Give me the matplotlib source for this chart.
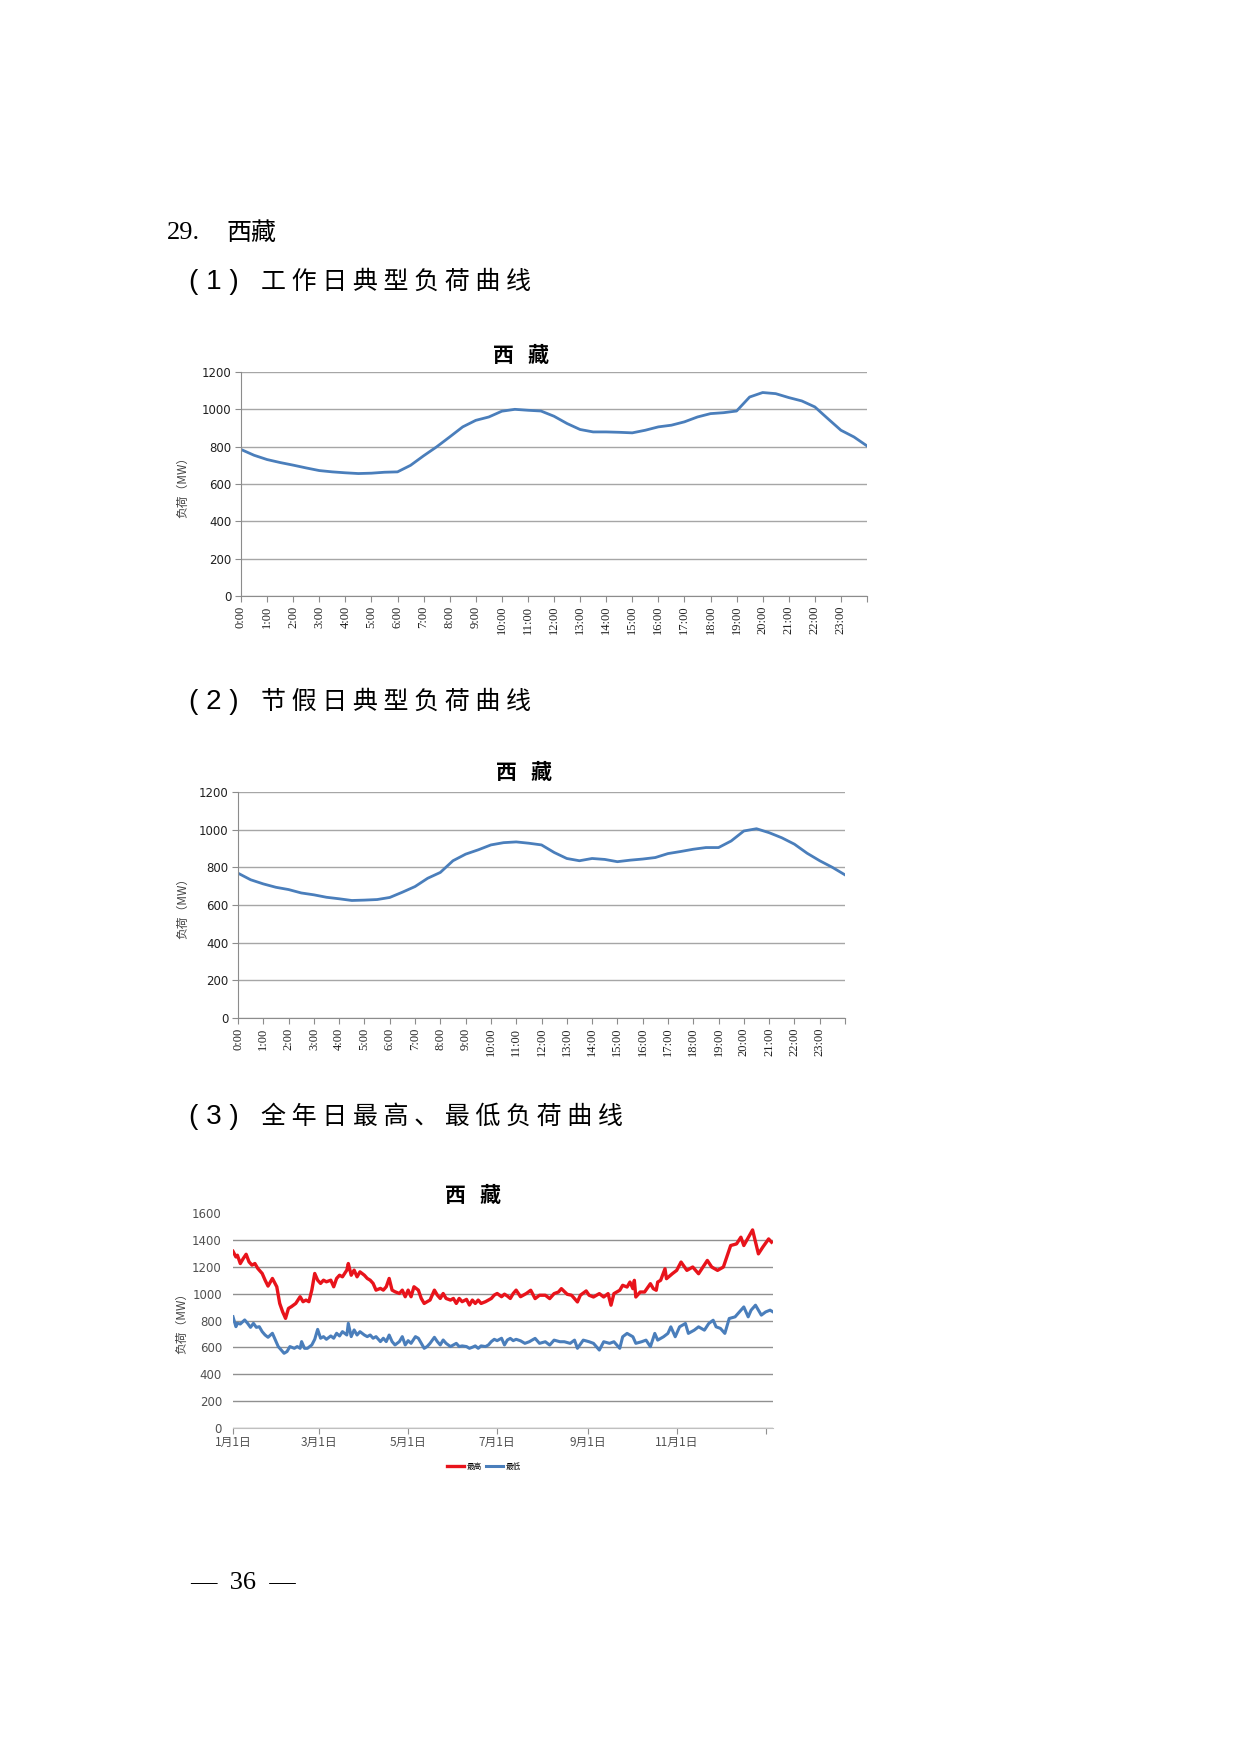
import matplotlib
matplotlib.use("Agg")
import matplotlib.pyplot as plt
import numpy as np

W, H = 1240, 1754
CJK = ['Noto Sans CJK SC', 'DejaVu Sans']
BLUE = '#4a7ebb'
RED = '#e8131b'
GRID = '#a6a6a6'

plt.rcParams['font.family'] = ['DejaVu Sans', 'Noto Sans CJK SC']

# typical workday load, half-hour steps 0:00 .. 24:00 (MW)
workday = [785, 754, 731, 715, 701, 686, 672, 665, 660, 656, 658, 663, 665,
           700, 751, 799, 852, 906, 941, 959, 990, 1000, 995, 991, 963, 924,
           892, 879, 879, 877, 874, 888, 906, 915, 933, 959, 977, 982, 991,
           1066, 1090, 1084, 1063, 1045, 1013, 950, 888, 852, 804]

# typical holiday load, half-hour steps 0:00 .. 24:00 (MW)
holiday = [769, 734, 712, 694, 682, 664, 654, 641, 633, 624, 626, 629, 640,
           668, 698, 742, 773, 835, 870, 893, 919, 931, 935, 928, 919, 879,
           847, 835, 847, 842, 830, 838, 844, 852, 873, 884, 896, 905, 905,
           940, 993, 1005, 984, 957, 923, 875, 835, 800, 760]

hour_labels = ['%d:00' % h for h in range(24)] + ['']

# daily maximum load over the year (day of year, MW)
max_days = [0, 2, 3, 5, 7, 9, 11, 13, 15, 17, 20, 22, 24, 27, 30, 32, 34, 36,
            38, 40, 43, 46, 48, 50, 52, 54, 56, 58, 60, 62, 64, 67, 69, 71,
            73, 75, 78, 79, 81, 83, 85, 87, 90, 92, 94, 96, 98, 101, 103, 105,
            107, 109, 111, 114, 116, 118, 120, 122, 124, 127, 129, 131, 133,
            135, 138, 140, 142, 144, 146, 149, 151, 153, 155, 157, 160, 162,
            164, 166, 168, 170, 173, 175, 177, 179, 181, 184, 186, 188, 190,
            192, 194, 197, 199, 201, 204, 207, 210, 214, 217, 220, 223, 225,
            229, 232, 236, 238, 242, 244, 247, 251, 254, 257, 259, 261, 265,
            267, 270, 272, 274, 275, 276, 279, 282, 286, 288, 290, 291, 293,
            296, 297, 301, 304, 307, 311, 315, 319, 325, 328, 332, 336, 341,
            345, 348, 350, 356, 360, 363, 367, 369]
max_load = [1315, 1273, 1286, 1224, 1261, 1293, 1236, 1212, 1224, 1187, 1150,
            1100, 1056, 1113, 1051, 927, 865, 816, 890, 903, 927, 977, 940,
            952, 940, 1026, 1150, 1100, 1076, 1100, 1088, 1100, 1051, 1113,
            1137, 1125, 1175, 1224, 1137, 1175, 1125, 1162, 1137, 1113, 1100,
            1076, 1026, 1039, 1026, 1051, 1113, 1026, 1014, 1001, 1026, 977,
            1026, 977, 1051, 1026, 964, 927, 940, 952, 1026, 989, 964, 1001,
            964, 952, 964, 927, 964, 940, 957, 915, 952, 927, 952, 927, 940,
            952, 964, 989, 1001, 977, 996, 982, 964, 1001, 1026, 977, 989,
            1001, 1025, 963, 988, 988, 963, 1000, 1012, 1037, 995, 988, 938,
            988, 1020, 988, 975, 1000, 975, 1000, 914, 1000, 1025, 1062, 1049,
            1086, 1037, 1099, 975, 1012, 1012, 1074, 1037, 1025, 1086, 1099,
            1185, 1111, 1148, 1173, 1235, 1173, 1198, 1148, 1247, 1198, 1173,
            1198, 1358, 1370, 1420, 1358, 1474, 1296, 1346, 1407, 1383]

# daily minimum load over the year (day of year, MW)
min_days = [0, 2, 3, 5, 8, 10, 12, 14, 16, 18, 20, 22, 24, 27, 29, 31, 33, 35,
            37, 39, 42, 44, 46, 47, 49, 51, 54, 56, 58, 60, 62, 64, 67, 69,
            71, 73, 75, 78, 79, 81, 83, 85, 87, 90, 92, 94, 96, 98, 101, 103,
            105, 107, 109, 111, 114, 116, 118, 120, 122, 125, 127, 129, 131,
            133, 135, 138, 140, 142, 144, 146, 149, 151, 153, 155, 157, 160,
            162, 164, 166, 168, 170, 173, 175, 177, 179, 181, 184, 186, 188,
            190, 192, 194, 197, 200, 203, 207, 210, 214, 217, 220, 224, 227,
            231, 234, 236, 240, 244, 247, 251, 254, 258, 261, 265, 267, 270,
            274, 276, 280, 283, 286, 289, 291, 295, 298, 300, 303, 306, 310,
            312, 316, 319, 323, 326, 329, 331, 334, 337, 340, 344, 347, 350,
            353, 355, 358, 362, 365, 368, 370]
min_load = [828, 754, 779, 774, 804, 779, 749, 779, 749, 754, 717, 692, 675,
            705, 655, 606, 581, 556, 569, 606, 593, 606, 593, 643, 593, 593,
            618, 660, 734, 668, 680, 660, 685, 668, 705, 685, 717, 692, 779,
            680, 730, 692, 717, 692, 680, 692, 668, 680, 643, 668, 643, 692,
            643, 618, 643, 680, 618, 650, 630, 680, 668, 630, 593, 606, 630,
            675, 643, 618, 655, 630, 606, 618, 630, 606, 611, 606, 593, 601,
            611, 593, 611, 606, 618, 643, 660, 650, 668, 618, 655, 667, 650,
            660, 649, 630, 642, 667, 630, 642, 617, 654, 642, 642, 630, 654,
            593, 654, 642, 630, 580, 642, 630, 642, 593, 679, 704, 679, 630,
            642, 654, 605, 704, 654, 679, 704, 753, 679, 753, 778, 704, 728,
            753, 728, 778, 802, 753, 741, 704, 815, 827, 864, 901, 827, 877,
            914, 840, 864, 877, 864]

month_ticks = [0, 59, 120, 181, 243, 304, 365]
month_labels = ['1月1日', '3月1日', '5月1日', '7月1日', '9月1日', '11月1日', '']

CHART_TITLE = '西   藏'


def box(l, t, r, b):
    return [l / W, 1 - b / H, (r - l) / W, (b - t) / H]


def ftext(fig, x, y, s, **kw):
    fig.text(x / W, 1 - y / H, s, **kw)


def day_chart(fig, rect, values, title_x, title_y, ylab_y):
    ax = fig.add_axes(rect)
    hours = np.linspace(0, 24, len(values))
    ax.plot(hours, values, color=BLUE, lw=2)
    ax.set_xlim(0, 24)
    ax.set_ylim(0, 1200)
    ax.set_yticks(range(0, 1201, 200))
    ax.set_xticks(range(25))
    ax.set_xticklabels(hour_labels, rotation=90, family='Liberation Serif',
                       fontsize=9)
    for lab in ax.get_yticklabels():
        lab.set_fontsize(8.5)
    ax.grid(axis='y', color=GRID, lw=1)
    ax.set_axisbelow(True)
    for s in ['top', 'right']:
        ax.spines[s].set_visible(False)
    for s in ['left', 'bottom']:
        ax.spines[s].set_color('#8c8c8c')
    ax.tick_params(color='#8c8c8c', labelcolor='#202020', length=4, pad=3)
    ftext(fig, title_x, title_y, CHART_TITLE, fontsize=15, weight='bold',
          family=CJK, ha='center', va='center')
    ftext(fig, 183, ylab_y, '负荷（MW）', fontsize=8.5, family=CJK,
          color='#404040', rotation=90, ha='center', va='center')
    return ax


fig = plt.figure(figsize=(W / 100, H / 100), dpi=100)

# headings
ftext(fig, 167, 233, '29.', fontsize=19, family='Liberation Serif',
      va='center')
ftext(fig, 226, 233, '西藏', fontsize=18, family=CJK, va='center')
headings = [(282, '工 作 日 典 型 负 荷 曲 线', '1'),
            (702, '节 假 日 典 型 负 荷 曲 线', '2'),
            (1117, '全 年 日 最 高 、 最 低 负 荷 曲 线', '3')]
for y, s, n in headings:
    ftext(fig, 189, y, '( %s )' % n, fontsize=20, family='Liberation Sans',
          va='center')
    ftext(fig, 261, y, s, fontsize=18, family=CJK, va='center')

# (1) workday
day_chart(fig, box(241, 372, 867, 596), workday, 521, 355, 484)

# (2) holiday
day_chart(fig, box(238, 792, 845, 1018), holiday, 524, 772, 905)

# (3) daily max / min over the year
ax = fig.add_axes(box(233, 1213, 773, 1428))
ax.plot(max_days, max_load, color=RED, lw=2.4, label='最高')
ax.plot(min_days, min_load, color=BLUE, lw=2.2, label='最低')
ax.set_xlim(0, 370)
ax.set_ylim(0, 1600)
ax.set_yticks(range(0, 1601, 200))
ax.set_xticks(month_ticks)
ax.set_xticklabels(month_labels, family=CJK, fontsize=8.5, color='#505050')
for lab in ax.get_yticklabels():
    lab.set_fontsize(8.5)
    lab.set_color('#505050')
ax.grid(axis='y', color='#909090', lw=1)
ax.yaxis.get_gridlines()[-1].set_visible(False)
ax.set_axisbelow(True)
for s in ['top', 'right', 'left']:
    ax.spines[s].set_visible(False)
ax.spines['bottom'].set_color('#c0c0c0')
ax.tick_params(axis='y', length=0, pad=8)
ax.tick_params(axis='x', color='#909090', length=4, pad=2)
ftext(fig, 473, 1195, CHART_TITLE, fontsize=15, weight='bold', family=CJK,
      ha='center', va='center')
ftext(fig, 182, 1320, '负荷（MW）', fontsize=8.5, family=CJK,
      color='#404040', rotation=90, ha='center', va='center')
ax.legend(loc='center', bbox_to_anchor=(484 / W, 1 - 1467 / H),
          bbox_transform=fig.transFigure, ncol=2, frameon=False,
          prop={'family': CJK, 'size': 5.5}, handlelength=2.2,
          columnspacing=0.6, handletextpad=0.3)

# page number
ftext(fig, 243, 1583, '—  36  —', fontsize=19, family='Liberation Serif',
      ha='center', va='center')

fig.savefig('out.png', dpi=100)
